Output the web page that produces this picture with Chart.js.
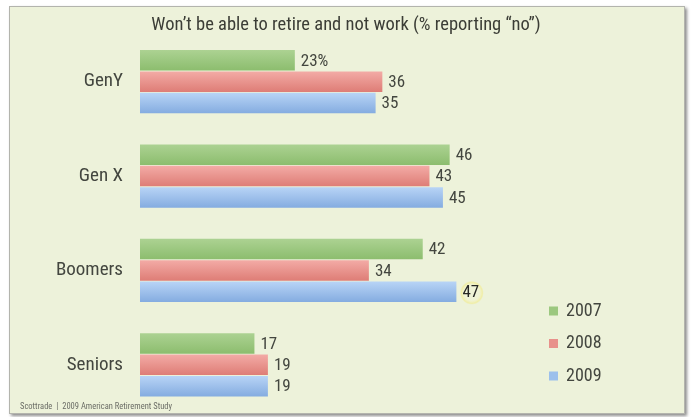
<!DOCTYPE html>
<html>
<head>
<meta charset="utf-8">
<title>Retirement study</title>
<script src="https://cdn.jsdelivr.net/npm/chart.js@4.4.1/dist/chart.umd.min.js"></script>
<style>
  html, body { margin: 0; padding: 0; background: #ffffff; }
  #wrap { position: relative; width: 692px; height: 417px; overflow: hidden; }
  #panel {
    position: absolute; left: 9px; top: 6px; width: 674px; height: 406px;
    background: #edf2da; border: 1px solid #b3b4ad;
    box-shadow: 2px 2px 3px rgba(0, 0, 0, 0.45);
  }
  #chart { position: absolute; left: 0; top: 0; }
</style>
</head>
<body>
<div id="wrap">
  <div id="panel"></div>
  <canvas id="chart" width="692" height="417"></canvas>
</div>
<script>
// survey groups and yearly shares (% answering "no")
const categories = ['GenY', 'Gen X', 'Boomers', 'Seniors'];
const years = ['2007', '2008', '2009'];
const values2007 = [23, 46, 42, 17];
const values2008 = [36, 43, 34, 19];
const values2009 = [35, 45, 47, 19];
const xMax = 82;

const FONT = '"Roboto Condensed", "DejaVu Sans Condensed", sans-serif';
const TEXT = '#43463f';

// top / bottom tones of each bar's gradient
const tones = [
    ['#acd292', '#8cbd6e'],
    ['#f3aba6', '#de7d76'],
    ['#b8d4f6', '#84ace0']
];

// repaint each bar with a vertical gradient based on its own geometry
const barGloss = {
    id: 'barGloss',
    beforeDatasetDraw(chart, args) {
        const ctx = chart.ctx;
        const [top, bottom] = tones[args.index];
        args.meta.data.forEach(el => {
            const { y, height } = el.getProps(['y', 'height'], true);
            const g = ctx.createLinearGradient(0, y - height / 2, 0, y + height / 2);
            g.addColorStop(0, top);
            g.addColorStop(1, bottom);
            el.options = Object.assign({}, el.options, { backgroundColor: g });
        });
    }
};

// numbers at the end of each bar, the 2009 boomers figure ringed in yellow
const valueLabels = {
    id: 'valueLabels',
    afterDatasetsDraw(chart) {
        const ctx = chart.ctx;
        ctx.save();
        ctx.font = '17px ' + FONT;
        ctx.textBaseline = 'middle';
        chart.data.datasets.forEach((ds, di) => {
            chart.getDatasetMeta(di).data.forEach((el, i) => {
                const { x, y } = el.getProps(['x', 'y'], true);
                const text = ds.data[i] + (di === 0 && i === 0 ? '%' : '');
                const tx = x + 6;
                const ty = y + 1;
                if (di === 2 && i === 2) {
                    const w = ctx.measureText(text).width;
                    const cx = tx + w / 2 + 1;
                    const halo = ctx.createRadialGradient(cx, ty, 7, cx, ty, 12);
                    halo.addColorStop(0, 'rgba(255, 250, 200, 0.15)');
                    halo.addColorStop(0.7, 'rgba(245, 232, 90, 0.4)');
                    halo.addColorStop(1, 'rgba(245, 232, 90, 0)');
                    ctx.fillStyle = halo;
                    ctx.beginPath();
                    ctx.arc(cx, ty, 12, 0, Math.PI * 2);
                    ctx.fill();
                    ctx.fillStyle = '#262724';
                } else {
                    ctx.fillStyle = TEXT;
                }
                ctx.fillText(text, tx, ty);
            });
        });
        ctx.restore();
    }
};

// year key at the lower right and the source line
const sideKey = {
    id: 'sideKey',
    afterDraw(chart) {
        const ctx = chart.ctx;
        ctx.save();
        ctx.textBaseline = 'middle';
        ctx.font = '18px ' + FONT;
        chart.data.datasets.forEach((ds, i) => {
            const y = 311 + i * 32.5;
            ctx.fillStyle = ds.backgroundColor;
            ctx.fillRect(549, y - 4.5, 9, 9);
            ctx.fillStyle = TEXT;
            ctx.fillText(ds.label, 566, y);
        });
        ctx.font = '8.5px ' + FONT;
        ctx.fillStyle = '#6b6d66';
        ctx.fillText('Scottrade  |  2009 American Retirement Study', 20, 407);
        ctx.restore();
    }
};

new Chart(document.getElementById('chart'), {
    type: 'bar',
    data: {
        labels: categories,
        datasets: [
            { label: years[0], data: values2007, backgroundColor: '#9cc87f' },
            { label: years[1], data: values2008, backgroundColor: '#e8918b' },
            { label: years[2], data: values2009, backgroundColor: '#9cc0ec' }
        ]
    },
    options: {
        indexAxis: 'y',
        responsive: false,
        animation: false,
        layout: { padding: { left: 0, right: 0, top: 0, bottom: 5 } },
        datasets: {
            bar: { barPercentage: 0.96, categoryPercentage: 0.68, borderWidth: 0 }
        },
        plugins: {
            legend: { display: false },
            tooltip: { enabled: false },
            title: {
                display: true,
                text: 'Won\u2019t be able to retire and not work (% reporting \u201cno\u201d)',
                color: '#3b3d36',
                font: { family: FONT, size: 18.5, weight: 'normal', lineHeight: 1 },
                padding: { top: 16, bottom: 0 }
            }
        },
        scales: {
            x: { display: false, min: 0, max: xMax },
            y: {
                grid: { display: false, drawTicks: false },
                border: { display: false },
                ticks: { color: TEXT, padding: 17, font: { family: FONT, size: 19 } },
                afterFit(scale) {
                    // fixed label column; keep tick padding from eating plot height
                    scale.width = 140;
                    scale.paddingTop = 0;
                    scale.paddingBottom = 0;
                }
            }
        }
    },
    plugins: [barGloss, valueLabels, sideKey]
});
</script>
</body>
</html>
